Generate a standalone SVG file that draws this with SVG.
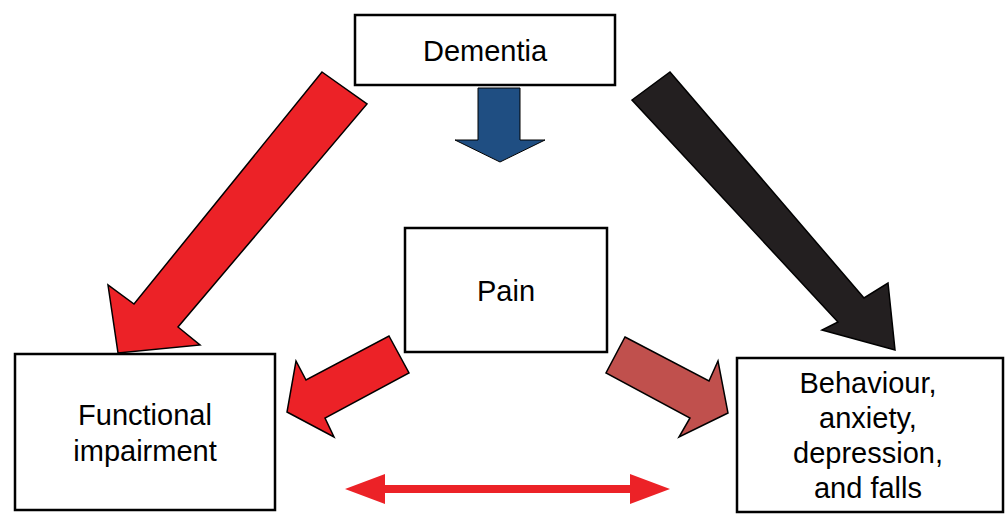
<svg xmlns="http://www.w3.org/2000/svg" width="1008" height="522" viewBox="0 0 1008 522">
<style>
.box{fill:#fff;stroke:#000;stroke-width:2.5}
.t{font-family:"Liberation Sans",Arial,sans-serif;font-size:29px;fill:#000;text-anchor:middle}
.ar{stroke:#000;stroke-width:1.5;stroke-linejoin:miter}
</style>
<rect width="1008" height="522" fill="#fff"/>
<g id="connectors">
<polygon class="ar" fill="#ec2227" points="322,72 367,104 178,327 200,345 118,353 108,285 134,304"/>
<polygon class="ar" fill="#231f20" points="632,100 670,72 864,298 888,283 895,350 822,330 838,322"/>
<polygon fill="#1f4e82" stroke="#000" stroke-width="1" points="478,88 520,88 520,140 545,140 500,162 455,140 478,140"/>
<polygon class="ar" fill="#ec2227" points="389,336 409,373 325,418 334,437 287,412 296,361 306,380"/>
<polygon class="ar" fill="#c0504d" points="625,337 709,381 718,361 728,413 679,437 690,418 606,373"/>
<polygon fill="#ec2227" points="345,489 385,474 385,485 630,485 630,474 670,489 630,504 630,493 385,493 385,504"/>
</g>
<g id="dementia"><rect class="box" x="355" y="15" width="260" height="70"/><text class="t" x="485" y="61">Dementia</text></g>
<g id="pain"><rect class="box" x="405" y="228" width="202" height="124"/><text class="t" x="506" y="301">Pain</text></g>
<g id="functional"><rect class="box" x="15" y="354" width="260" height="156"/><text class="t" x="145" y="425">Functional</text><text class="t" x="145" y="461">impairment</text></g>
<g id="behaviour"><rect class="box" x="737" y="358" width="266" height="154"/><text class="t" x="868" y="393">Behaviour,</text><text class="t" x="868" y="428">anxiety,</text><text class="t" x="868" y="463">depression,</text><text class="t" x="868" y="498">and falls</text></g>
</svg>
